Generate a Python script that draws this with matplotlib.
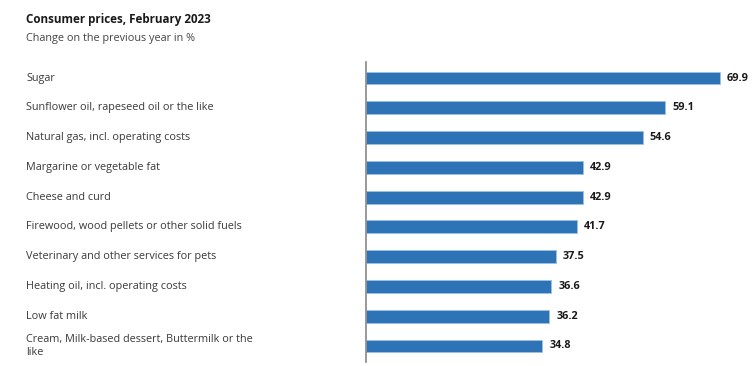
import matplotlib.pyplot as plt
from matplotlib.transforms import blended_transform_factory

categories = [
    "Sugar",
    "Sunflower oil, rapeseed oil or the like",
    "Natural gas, incl. operating costs",
    "Margarine or vegetable fat",
    "Cheese and curd",
    "Firewood, wood pellets or other solid fuels",
    "Veterinary and other services for pets",
    "Heating oil, incl. operating costs",
    "Low fat milk",
    "Cream, Milk-based dessert, Buttermilk or the\nlike",
]
values = [69.9, 59.1, 54.6, 42.9, 42.9, 41.7, 37.5, 36.6, 36.2, 34.8]

TITLE = "Consumer prices, February 2023"
SUBTITLE = "Change on the previous year in %"

plt.rcParams["font.family"] = ["Open Sans", "DejaVu Sans"]

W, H = 756, 366
fig = plt.figure(figsize=(W / 100, H / 100), dpi=100)
fig.patch.set_facecolor("white")

# axes placed in pixel terms: left edge at 366px, top 62px, bottom 362px
ax_left, ax_right, ax_top, ax_bottom = 366, 740, 62, 362
ax = fig.add_axes([ax_left / W, (H - ax_bottom) / H, (ax_right - ax_left) / W, (ax_bottom - ax_top) / H])

px_per_unit = (720 - 366) / 69.9
ax.set_xlim(0, (ax_right - ax_left) / px_per_unit)
ax.set_ylim(len(values) - 1 + 0.54, -0.54)

ypos = list(range(len(values)))
ax.barh(ypos, values, height=0.43, color="#2e73b5", edgecolor="#9cc1e6", linewidth=0.6)

for y, v in zip(ypos, values):
    ax.annotate(f"{v:.1f}", (v, y), xytext=(5, 0), textcoords="offset points",
                va="center", ha="left", fontsize=7.8, fontweight="bold", color="#1a1a1a")

label_tf = blended_transform_factory(fig.transFigure, ax.transData)
for y, label in zip(ypos, categories):
    ax.text(26 / W, y, label, transform=label_tf,
            ha="left", va="center", fontsize=7.85, color="#3a3a3a", linespacing=1.35)

for side in ["top", "right", "bottom"]:
    ax.spines[side].set_visible(False)
ax.spines["left"].set_color("#888888")
ax.spines["left"].set_linewidth(1.2)
ax.set_xticks([])
ax.set_yticks([])

fig.text(26 / W, 1 - 20 / H, TITLE, fontsize=8.4, fontweight="bold", color="#1a1a1a", va="center", ha="left")
fig.text(26 / W, 1 - 38 / H, SUBTITLE, fontsize=7.8, color="#444444", va="center", ha="left")

fig.savefig("out.png", dpi=100, facecolor="white")
